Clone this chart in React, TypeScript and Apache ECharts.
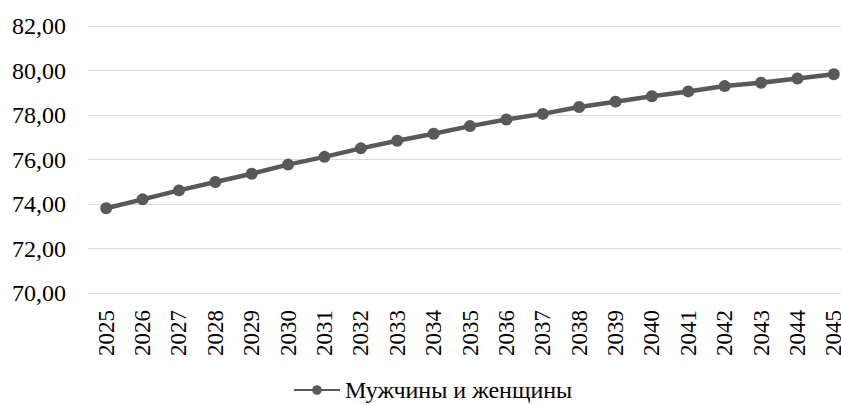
import React, { useEffect, useRef } from "react";
import * as echarts from "echarts";

const years = ["2025","2026","2027","2028","2029","2030","2031","2032","2033","2034","2035","2036","2037","2038","2039","2040","2041","2042","2043","2044","2045"];
const values = [73.81,74.21,74.61,74.99,75.36,75.77,76.12,76.5,76.84,77.16,77.5,77.8,78.05,78.36,78.6,78.84,79.06,79.3,79.45,79.64,79.83];
const seriesName = "Мужчины и женщины";

export default function App() {
  const ref = useRef<HTMLDivElement>(null);
  useEffect(() => {
    const chart = echarts.init(ref.current!, null, { renderer: "svg" });
    const font = "'Liberation Serif', 'Times New Roman', serif";
    chart.setOption({
      animation: false,
      grid: { left: 88, top: 26, right: 8, height: 267, containLabel: false },
      legend: {
        data: [seriesName],
        left: 293,
        top: 378,
        padding: 0,
        itemWidth: 46,
        itemHeight: 12,
        textStyle: { fontFamily: font, fontSize: 24, color: "#000" },
      },
      xAxis: {
        type: "category",
        data: years,
        boundaryGap: true,
        axisLine: { show: true, lineStyle: { color: "#d9d9d9", width: 1 } },
        axisTick: { show: false },
        axisLabel: { rotate: 90, fontFamily: font, fontSize: 23, color: "#000", margin: 17, interval: 0 },
      },
      yAxis: {
        type: "value",
        min: 70,
        max: 82,
        interval: 2,
        axisLine: { show: false },
        axisTick: { show: false },
        splitLine: { lineStyle: { color: "#d9d9d9", width: 1 } },
        axisLabel: {
          fontFamily: font,
          fontSize: 24,
          color: "#000",
          margin: 22,
          formatter: (v: number) => v.toFixed(2).replace(".", ","),
        },
      },
      series: [
        {
          name: seriesName,
          type: "line",
          data: values,
          symbol: "circle",
          symbolSize: 12,
          lineStyle: { color: "#595959", width: 4.5 },
          itemStyle: { color: "#595959" },
        },
      ],
    });
    return () => chart.dispose();
  }, []);
  return (
    <div style={{ position: "fixed", left: 0, top: 0, width: 841, height: 405, overflow: "hidden", background: "#fff" }}>
      <div ref={ref} style={{ width: 860, height: 405 }} />
    </div>
  );
}
